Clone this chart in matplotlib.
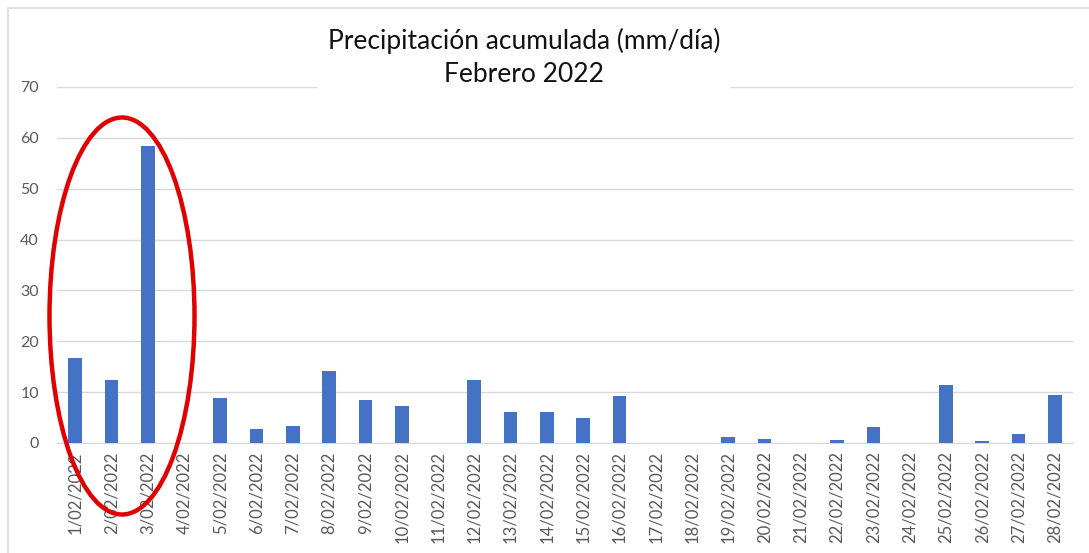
import matplotlib.pyplot as plt
from matplotlib.patches import Ellipse, Rectangle

# daily accumulated precipitation, February 2022 (mm/day)
days = [f"{d}/02/2022" for d in range(1, 29)]
precip = [16.8, 12.3, 58.4, 0.0, 8.9, 2.7, 3.4, 14.1, 8.5, 7.3,
          0.0, 12.4, 6.0, 6.0, 4.9, 9.2, 0.0, 0.0, 1.2, 0.8,
          0.0, 0.6, 3.1, 0.0, 11.4, 0.3, 1.7, 9.5]
yticks = [0, 10, 20, 30, 40, 50, 60, 70]

W, H = 1089, 553
plt.rcParams["font.family"] = ["Lato", "DejaVu Sans"]

fig = plt.figure(figsize=(W / 100, H / 100), dpi=100)
ax = fig.add_axes([57 / W, 1 - 443 / H, 1016 / W, 356 / H])

x = range(len(days))
ax.bar(x, precip, width=0.38, color="#4472C4", zorder=3)
ax.set_xlim(-0.5, len(days) - 0.5)
ax.set_ylim(0, 70)
ax.set_yticks(yticks)
ax.set_xticks(list(x))
ax.set_xticklabels(days, rotation=90, fontsize=12, color="#595959")
ax.tick_params(axis="y", labelsize=11.5, labelcolor="#595959", length=0, pad=13)
ax.tick_params(axis="x", length=0, pad=6)
ax.grid(axis="y", color="#d9d9d9", linewidth=1, zorder=0)
for s in ["top", "right", "left"]:
    ax.spines[s].set_visible(False)
ax.spines["bottom"].set_color("#d9d9d9")

# outer chart border
fig.patches.append(Rectangle((8 / W, -0.05), 1.1, 1 - 8 / H + 0.05, transform=fig.transFigure,
                             fill=False, edgecolor="#d9d9d9", linewidth=1.2))

fig.text(524 / W, 1 - 57 / H, "Precipitación acumulada (mm/día)\nFebrero 2022",
         ha="center", va="center", fontsize=19, color="#111111", linespacing=1.4,
         bbox=dict(facecolor="white", edgecolor="none", pad=8), zorder=5)

# red highlight ellipse around the first three days
fig.patches.append(Ellipse((122 / W, 1 - 316 / H), 145 / W, 397 / H, transform=fig.transFigure,
                           fill=False, edgecolor="#e00000", linewidth=3.2, zorder=6))

fig.savefig("out.png", dpi=100)
